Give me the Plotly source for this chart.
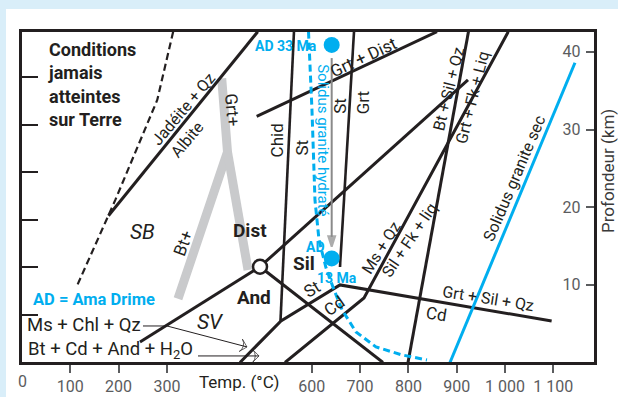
import plotly.graph_objects as go

# ---------------- axis extents ----------------
T_RANGE = [0, 1184.3]          # temperature (°C)
KM_RANGE = [0.06, 42.56]       # depth (km)
KM_PER_KBAR = 3.06

# ---------------- tick labels ----------------
temp_ticks = [100, 200, 300, 600, 700, 800, 900, 1000, 1100]
temp_ticktext = ["100", "200", "300", "600", "700", "800", "900", "1 000", "1 100"]
depth_ticks = [10, 20, 30, 40]
pressure_ticks = [2, 4, 6, 8, 10, 12]

# ---------------- boundaries (T °C, depth km) ----------------
limit_T = [313, 280, 193, 112]            # "conditions jamais atteintes" limit (dashed)
limit_km = [42.6, 33.8, 20.9, 9.6]

jadeite_T = [488, 179]
jadeite_km = [42.6, 18.9]

grt_band_T = [413.5, 425.5, 323]          # Grt+ / Bt+ grey band
grt_band_km = [36.6, 27.1, 8.2]
grt_band2_T = [425.5, 468]
grt_band2_km = [27.1, 11.9]

triple_T = [492.8]
triple_km = [12.33]

ky_sil_T = [492.8, 923.4]
ky_sil_km = [12.33, 36.4]
ky_and_T = [492.8, 244.3]
ky_and_km = [12.33, 2.64]
and_sil_T = [492.8, 747.4]
and_sil_km = [12.33, 0]

chid_T = [563.1, 535.2]
chid_km = [42.6, 5.35]

st_grt_T = [687.4, 658.4]
st_grt_km = [42.6, 12.3]

grt_dist_T = [485.9, 859.2]
grt_dist_km = [31.7, 42.6]

st_cd_T = [1096.6, 658.4, 536.2, 451.3]
st_cd_km = [5.34, 9.99, 5.35, 0]

ms_qz_T = [1006.8, 714.3, 708.1, 544.5]
ms_qz_km = [42.6, 9.21, 8.31, 0]

bt_melt_T = [924.4, 799.2]
bt_melt_km = [42.6, 0]

wet_solidus_T = [593.2, 600.4, 606.6, 614.9, 629.4, 643.9, 662.5, 691.5, 732.9, 786.7, 838.5]
wet_solidus_km = [42.6, 32.5, 20.9, 15.8, 12.2, 9.7, 6.8, 3.93, 2.0, 0.97, 0.32]

dry_solidus_T = [1144.9, 886.1]
dry_solidus_km = [38.6, 0]

ad_T = [641.2, 641.2]
ad_km = [40.9, 13.4]
ad_path_km = [39.2, 14.9]

ms_chl_T = [250.5, 300.2, 465.8]
ms_chl_km = [4.7, 4.7, 2.0]
bt_cd_T = [364.4, 490.7]
bt_cd_km = [0.84, 0.84]

BLACK = "#231f20"
CYAN = "#00aeef"
GREY_BAND = "#c9cacc"
GREY_ARROW = "#8a8a8a"
TICK_GREY = "#5b5c5e"
FONT = "Roboto, 'Open Sans', sans-serif"

fig = go.Figure()


def add_line(xs, ys, color=BLACK, width=3, dash=None):
    fig.add_trace(go.Scatter(x=xs, y=ys, mode="lines",
                             line=dict(color=color, width=width, dash=dash),
                             hoverinfo="skip", showlegend=False))


def add_arrow(xs, ys, color, width, symbol, size):
    fig.add_trace(go.Scatter(x=xs, y=ys, mode="lines+markers",
                             line=dict(color=color, width=width),
                             marker=dict(symbol=symbol, angleref="previous",
                                         size=[0] * (len(xs) - 1) + [size], color=color,
                                         line=dict(color=color, width=width)),
                             hoverinfo="skip", showlegend=False))


add_line(grt_band_T, grt_band_km, GREY_BAND, 9)
add_line(grt_band2_T, grt_band2_km, GREY_BAND, 9)
add_line(limit_T, limit_km, BLACK, 2.2, "7px,4px")
add_line(jadeite_T, jadeite_km)
add_line(ky_sil_T, ky_sil_km)
add_line(ky_and_T, ky_and_km)
add_line(and_sil_T, and_sil_km)
add_line(chid_T, chid_km, BLACK, 2.6)
add_line(st_grt_T, st_grt_km, BLACK, 2.6)
add_line(grt_dist_T, grt_dist_km)
add_line(st_cd_T, st_cd_km)
add_line(ms_qz_T, ms_qz_km)
add_line(bt_melt_T, bt_melt_km)
add_arrow(ms_chl_T, ms_chl_km, BLACK, 1, "arrow-wide-open", 9)
add_arrow(bt_cd_T, bt_cd_km, BLACK, 1, "arrow-wide-open", 9)
add_arrow(ad_T, ad_path_km, GREY_ARROW, 2, "arrow", 11)
add_line(wet_solidus_T, wet_solidus_km, CYAN, 3, "7px,4px")
add_line(dry_solidus_T, dry_solidus_km, CYAN, 3)

# pressure axis carrier (invisible)
fig.add_trace(go.Scatter(x=[0], y=[1], yaxis="y2", mode="markers",
                         marker=dict(opacity=0), hoverinfo="skip", showlegend=False))

fig.add_trace(go.Scatter(x=ad_T, y=ad_km, mode="markers",
                         marker=dict(size=16, color=CYAN, line=dict(width=0)),
                         hoverinfo="skip", showlegend=False))
fig.add_trace(go.Scatter(x=triple_T, y=triple_km, mode="markers",
                         marker=dict(size=14, color="white", line=dict(color=BLACK, width=2.5)),
                         hoverinfo="skip", showlegend=False))

ann = []


def label(text, x, y, angle=0, size=17, color=BLACK, xanchor="center", align="center"):
    ann.append(dict(x=x, y=y, xref="x", yref="y", text=text, showarrow=False,
                    textangle=angle, xanchor=xanchor, yanchor="middle", align=align,
                    font=dict(family=FONT, size=size, color=color)))


label("<b>Conditions<br>jamais<br>atteintes<br>sur Terre</b>", 50, 35.86, size=18,
      xanchor="left", align="left")
label("<b>AD 33 Ma</b>", 614, 40.7, size=14, color=CYAN, xanchor="right")
label("<b>AD</b>", 608.3, 14.88, size=14, color=CYAN)
label("<b>13 Ma</b>", 651.6, 10.89, size=14, color=CYAN)
label("<b>Sil</b>", 583.9, 12.69, size=19)
label("<b>Dist</b>", 472, 16.95, size=19)
label("<b>And</b>", 480.3, 8.38, size=19)
label("<i>SB</i>", 249.5, 16.82, size=21)
label("<i>SV</i>", 391.3, 5.22, size=21)
label("Chid", 527.3, 28.56, -90)
label("St", 579.1, 27.64, -90)
label("St", 658.4, 33.05, -90)
label("Grt", 705, 33.44, -90)
label("Grt + Dist", 708, 39.3, -25)
label("Solidus granite hydraté", 622.5, 28.67, 90, 15, CYAN)
label("Jadéite + Qz", 335.4, 32.67, -50, 16)
label("Albite", 342.6, 28.67, -50, 16)
label("Grt+", 435.8, 32.54, 85)
label("Bt+", 333.3, 15.4, -70)
label("Ms + Qz", 744, 14.8, -58, 16)
label("Sil + Fk + liq", 803.3, 15.78, -56, 16)
label("St", 600.4, 9.47, -32)
label("Cd", 646, 7.28, -35)
label("Grt + Sil + Qz", 964.8, 8.18, 9, 16)
label("Cd", 859.2, 6.24, 9)
label("Bt + Sil + Qz", 884, 35.25, -76, 16)
label("Grt + Fk + Liq", 933.7, 34.2, -76, 16)
label("Solidus granite sec", 1020.7, 23.77, -67, 16)
label("<b>AD = Ama Drime</b>", 19, 8.05, size=16.5, color=CYAN, xanchor="left")
label("Ms + Chl + Qz", 7, 4.83, size=18.5, xanchor="left")
label("Bt + Cd + And + H<sub>2</sub>O", 9, 1.6, size=18.5, xanchor="left")


def margin_text(text, xp, yp, size, color, angle=0):
    ann.append(dict(x=xp, y=yp, xref="paper", yref="paper", text=text, showarrow=False,
                    xanchor="center", yanchor="middle", textangle=angle,
                    font=dict(family=FONT, size=size, color=color)))


margin_text("Temp. (°C)", 0.3802, -0.0606, 17, BLACK)
margin_text("0", 0, -0.0606, 16, TICK_GREY)
margin_text("Profondeur (km)", 1.0245, 0.5788, 17, "#3a3a3a", -90)

shapes = [
    dict(type="rect", xref="paper", yref="paper", x0=-0.0385, x1=-0.028, y0=-0.2, y1=1.2,
         fillcolor="#d9eef9", line=dict(width=0), layer="below"),
    dict(type="rect", xref="paper", yref="paper", x0=-0.06, x1=1.1, y0=1.0697, y1=1.2,
         fillcolor="#d9eef9", line=dict(width=0), layer="below"),
]

fig.update_layout(
    width=618, height=397, autosize=False,
    margin=dict(l=22, r=24, t=32, b=35, autoexpand=False),
    paper_bgcolor="white", plot_bgcolor="white",
    font=dict(family=FONT, color=BLACK),
    showlegend=False,
    annotations=ann, shapes=shapes,
    xaxis=dict(range=T_RANGE, tickvals=temp_ticks, ticktext=temp_ticktext,
               ticks="outside", ticklen=8, tickwidth=1.5, tickcolor=TICK_GREY,
               tickfont=dict(family=FONT, size=16, color=TICK_GREY),
               showgrid=False, zeroline=False, showline=True, mirror=True,
               linecolor=BLACK, linewidth=2.5, automargin=False),
    yaxis=dict(range=KM_RANGE, side="right", tickvals=depth_ticks,
               ticks="inside", ticklen=8, tickwidth=1.5, tickcolor=TICK_GREY,
               ticklabelposition="inside", ticklabelstandoff=6,
               tickfont=dict(family=FONT, size=16, color=TICK_GREY),
               showgrid=False, zeroline=False, showline=True, mirror=True,
               linecolor=BLACK, linewidth=2.5, automargin=False),
    yaxis2=dict(overlaying="y", side="left",
                range=[KM_RANGE[0] / KM_PER_KBAR, KM_RANGE[1] / KM_PER_KBAR],
                tickvals=pressure_ticks, ticks="inside", ticklen=16, tickwidth=1.5,
                tickcolor=BLACK, showticklabels=False, showgrid=False,
                zeroline=False, showline=False, automargin=False),
)

fig.write_html("out.html", config={"displayModeBar": False},
               post_script="document.body.style.margin='0';document.body.style.overflow='hidden';")
